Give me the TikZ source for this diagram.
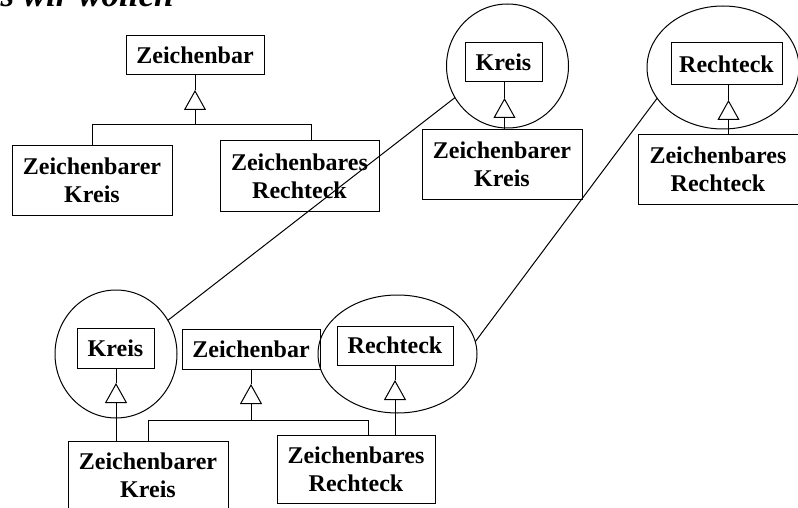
\documentclass[tikz,border=0pt]{standalone}
\usepackage{fontspec}
\setmainfont{Liberation Serif}
\usetikzlibrary{shapes.geometric,arrows.meta}
\begin{document}
\begin{tikzpicture}[x=1pt,y=-1pt,line width=1pt,
  cls/.style={draw,rectangle,inner sep=0pt,outer sep=0pt,align=center,
    font=\fontsize{24}{28}\selectfont\bfseries},
  ell/.style={draw,ellipse,inner sep=0pt,outer sep=0pt},
  inh/.style={-{Triangle[open,length=20pt,width=22pt]}},
  ttl/.style={anchor=base west,inner sep=0pt,font=\fontsize{35}{40}\selectfont\bfseries\itshape}
]
\useasboundingbox (0,0) rectangle (798,508);

% title
\node[ttl] (title) at (-46,7) {Was wir wollen};

% ---------- top left diagram ----------
\node[cls,minimum width=138pt,minimum height=39pt] (zb1) at (195,55.5) {Zeichenbar};
\node[cls,minimum width=160pt,minimum height=69pt] (zk1) at (92,180.5) {Zeichenbarer\\Kreis};
\node[cls,minimum width=159pt,minimum height=70pt] (zr1) at (299.5,176) {Zeichenbares\\Rechteck};
\coordinate (a1) at (195,90);
\coordinate (j1) at (195,125);
\coordinate (hl1) at (92,125);
\coordinate (hr1) at (311,125);
\draw (zb1.south) -- (a1);
\draw[inh] (j1) -- (a1);
\draw (zk1.north) -- (hl1) -- (hr1) -- (hr1 |- zr1.north);

% ---------- top middle ----------
\node[ell,minimum width=122pt,minimum height=124pt] (c1) at (507.5,66) {};
\node[cls,minimum width=77pt,minimum height=39pt] (k1) at (503.5,62.5) {Kreis};
\node[cls,minimum width=160pt,minimum height=69pt] (zk2) at (502,164.5) {Zeichenbarer\\Kreis};
\coordinate (a2) at (504.5,98);
\draw (k1.south -| a2) -- (a2);
\draw[inh] (zk2.north -| a2) -- (a2);

% ---------- top right ----------
\node[ell,minimum width=152pt,minimum height=123pt] (c2) at (723,67.5) {};
\node[cls,minimum width=111pt,minimum height=42pt] (r1) at (726.5,64) {Rechteck};
\node[cls,minimum width=160pt,minimum height=69pt] (zr2) at (718,169.5) {Zeichenbares\\Rechteck};
\coordinate (a3) at (728.5,100);
\draw (r1.south -| a3) -- (a3);
\draw[inh] (zr2.north -| a3) -- (a3);

% ---------- bottom diagram ----------
\node[ell,minimum width=122pt,minimum height=128pt] (c3) at (116,354) {};
\node[cls,minimum width=77pt,minimum height=40pt] (k2) at (115.5,348) {Kreis};
\node[cls,minimum width=138pt,minimum height=40pt] (zb2) at (251,349) {Zeichenbar};
\node[ell,minimum width=159pt,minimum height=118pt] (c4) at (397.5,354) {};
\node[cls,minimum width=116pt,minimum height=39pt] (r2) at (395,345.5) {Rechteck};
\node[cls,minimum width=160pt,minimum height=68pt] (zk3) at (148,475) {Zeichenbarer\\Kreis};
\node[cls,minimum width=158pt,minimum height=68pt] (zr3) at (356,469) {Zeichenbares\\Rechteck};

\coordinate (a4) at (116,383);
\draw (k2.south -| a4) -- (a4);
\draw[inh] (zk3.north -| a4) -- (a4);

\coordinate (a5) at (251,384);
\coordinate (j5) at (251,420);
\coordinate (hl5) at (148,420);
\coordinate (hr5) at (368,420);
\draw (zb2.south) -- (a5);
\draw[inh] (j5) -- (a5);
\draw (zk3.north) -- (hl5) -- (hr5) -- (hr5 |- zr3.north);

\coordinate (a6) at (395,380);
\draw (r2.south -| a6) -- (a6);
\draw[inh] (zr3.north -| a6) -- (a6);

% ---------- connecting lines ----------
\draw (c1.211) -- (c3.33);
\draw (c2.205) -- (c4.9);
\end{tikzpicture}
\end{document}
